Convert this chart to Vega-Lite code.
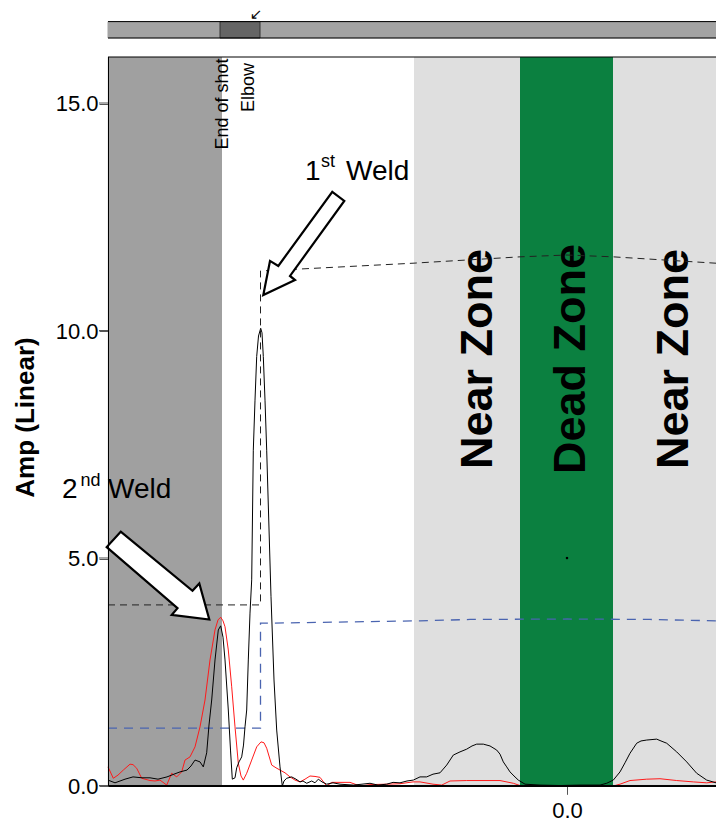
{
  "$schema": "https://vega.github.io/schema/vega-lite/v6.json",
  "autosize": {"type": "none"},
  "padding": {"left": 108, "top": 57, "right": 0, "bottom": 35},
  "width": 608,
  "height": 729,
  "background": "white",
  "config": {
    "view": {"stroke": null},
    "font": "Liberation Sans",
    "text": {"font": "Liberation Sans"},
    "axis": {"labelFont": "Liberation Sans", "titleFont": "Liberation Sans",
      "grid": false, "domainColor": "black", "tickColor": "#555555",
      "labelColor": "black", "labelFontSize": 22},
    "axisX": {"tickSize": 8, "labelPadding": 6},
    "axisY": {"tickSize": 9, "labelPadding": 1, "titleFontSize": 26, "titleFontWeight": "bold", "titleAngle": 270,
      "titleX": -75, "titleY": 360, "titleAlign": "center", "titleBaseline": "alphabetic", "titleColor": "black"}
  },
  "datasets": {
    "bands": [
      {"zone": "beyond", "x": -4.59, "x2": -3.45, "y": 0, "y2": 16.022},
      {"zone": "near", "x": -1.53, "x2": -0.47, "y": 0, "y2": 16.022},
      {"zone": "dead", "x": -0.47, "x2": 0.46, "y": 0, "y2": 16.022},
      {"zone": "near", "x": 0.46, "x2": 1.49, "y": 0, "y2": 16.022}
    ],
    "bar": [
      {"part": "track", "x": -4.59, "x2": 1.49, "y": 16.44, "y2": 16.8},
      {"part": "thumb", "x": -3.47, "x2": -3.07, "y": 16.44, "y2": 16.8}
    ],
    "edges": [
      {"x": -4.59, "x2": 1.49, "y": 16.44},
      {"x": -4.59, "x2": 1.49, "y": 16.8},
      {"x": -4.59, "x2": 1.49, "y": 16.022}
    ],
    "frame": [
      {"x": -4.5855, "x2": -4.5855, "y": 0, "y2": 16.022},
      {"x": -4.59, "x2": 1.49, "y": 0.011, "y2": 0.011}
    ],
    "tickMarks": [
      {"x": -4.68, "x2": -4.59, "y": 0.011, "y2": 0.011},
      {"x": -4.68, "x2": -4.59, "y": 5.011, "y2": 5.011},
      {"x": -4.68, "x2": -4.59, "y": 10.011, "y2": 10.011},
      {"x": -4.68, "x2": -4.59, "y": 15.011, "y2": 15.011},
      {"x": 0.005, "x2": 0.005, "y": -0.19, "y2": 0}
    ],
    "marker": [{"x": 0.0, "y": 5.01}],
    "scrollArrow": [{"x": -3.11, "y": 16.97, "label": "↙"}],
    "black": [
      {"x": -4.59, "y": 0.13}, {"x": -4.52, "y": 0.07}, {"x": -4.42, "y": 0.15}, {"x": -4.34, "y": 0.2},
      {"x": -4.25, "y": 0.18}, {"x": -4.17, "y": 0.18}, {"x": -4.09, "y": 0.15}, {"x": -4.0, "y": 0.2},
      {"x": -3.93, "y": 0.26}, {"x": -3.87, "y": 0.31}, {"x": -3.8, "y": 0.35}, {"x": -3.76, "y": 0.44},
      {"x": -3.72, "y": 0.57}, {"x": -3.67, "y": 0.53}, {"x": -3.637, "y": 0.42}, {"x": -3.603, "y": 0.73},
      {"x": -3.58, "y": 1.34}, {"x": -3.553, "y": 1.89}, {"x": -3.52, "y": 2.77}, {"x": -3.487, "y": 3.43},
      {"x": -3.463, "y": 3.52}, {"x": -3.44, "y": 3.27}, {"x": -3.42, "y": 2.77}, {"x": -3.387, "y": 1.67},
      {"x": -3.365, "y": 0.79}, {"x": -3.347, "y": 0.15}, {"x": -3.32, "y": 0.18}, {"x": -3.303, "y": 0.4},
      {"x": -3.28, "y": 0.53}, {"x": -3.253, "y": 0.64}, {"x": -3.235, "y": 0.9}, {"x": -3.22, "y": 1.3},
      {"x": -3.203, "y": 1.67}, {"x": -3.187, "y": 2.77}, {"x": -3.17, "y": 3.8}, {"x": -3.153, "y": 4.53},
      {"x": -3.137, "y": 7.38}, {"x": -3.12, "y": 8.48}, {"x": -3.103, "y": 9.44}, {"x": -3.085, "y": 9.89},
      {"x": -3.063, "y": 10.06}, {"x": -3.05, "y": 9.96}, {"x": -3.037, "y": 9.44}, {"x": -3.02, "y": 8.48},
      {"x": -3.003, "y": 7.38}, {"x": -2.96, "y": 4.16}, {"x": -2.93, "y": 2.33}, {"x": -2.903, "y": 1.23},
      {"x": -2.87, "y": 0.42}, {"x": -2.847, "y": 0.0}, {"x": -2.83, "y": 0.11}, {"x": -2.803, "y": 0.17},
      {"x": -2.753, "y": 0.2}, {"x": -2.71, "y": 0.15}, {"x": -2.67, "y": 0.09}, {"x": -2.64, "y": 0.11},
      {"x": -2.603, "y": 0.06}, {"x": -2.553, "y": 0.11}, {"x": -2.52, "y": 0.07}, {"x": -2.487, "y": 0.15},
      {"x": -2.45, "y": 0.09}, {"x": -2.403, "y": 0.04}, {"x": -2.34, "y": 0.07}, {"x": -2.27, "y": 0.04},
      {"x": -2.137, "y": 0.02}, {"x": -2.05, "y": 0.04}, {"x": -1.97, "y": 0.06}, {"x": -1.89, "y": 0.02},
      {"x": -1.803, "y": 0.04}, {"x": -1.74, "y": 0.08}, {"x": -1.67, "y": 0.07}, {"x": -1.6, "y": 0.11},
      {"x": -1.537, "y": 0.13}, {"x": -1.47, "y": 0.2}, {"x": -1.403, "y": 0.2}, {"x": -1.34, "y": 0.26},
      {"x": -1.27, "y": 0.29}, {"x": -1.203, "y": 0.46}, {"x": -1.137, "y": 0.68}, {"x": -1.07, "y": 0.75},
      {"x": -1.003, "y": 0.81}, {"x": -0.95, "y": 0.88}, {"x": -0.903, "y": 0.92}, {"x": -0.837, "y": 0.92},
      {"x": -0.77, "y": 0.88}, {"x": -0.703, "y": 0.79}, {"x": -0.67, "y": 0.7}, {"x": -0.637, "y": 0.53},
      {"x": -0.603, "y": 0.42}, {"x": -0.57, "y": 0.31}, {"x": -0.53, "y": 0.22}, {"x": -0.487, "y": 0.13},
      {"x": -0.42, "y": 0.04}, {"x": -0.27, "y": 0.02}, {"x": -0.07, "y": 0.01}, {"x": 0.13, "y": 0.02},
      {"x": 0.33, "y": 0.02}, {"x": 0.397, "y": 0.06}, {"x": 0.463, "y": 0.13}, {"x": 0.53, "y": 0.31},
      {"x": 0.58, "y": 0.51}, {"x": 0.63, "y": 0.72}, {"x": 0.697, "y": 0.94}, {"x": 0.74, "y": 0.99},
      {"x": 0.797, "y": 1.01}, {"x": 0.897, "y": 1.03}, {"x": 0.94, "y": 0.99}, {"x": 0.997, "y": 0.94},
      {"x": 1.097, "y": 0.75}, {"x": 1.197, "y": 0.53}, {"x": 1.297, "y": 0.28}, {"x": 1.397, "y": 0.13},
      {"x": 1.49, "y": 0.07}
    ],
    "red": [
      {"x": -4.59, "y": 0.42}, {"x": -4.537, "y": 0.17}, {"x": -4.49, "y": 0.24}, {"x": -4.437, "y": 0.35},
      {"x": -4.37, "y": 0.48}, {"x": -4.34, "y": 0.47}, {"x": -4.303, "y": 0.39}, {"x": -4.253, "y": 0.17},
      {"x": -4.17, "y": 0.12}, {"x": -4.12, "y": 0.11}, {"x": -4.07, "y": 0.13}, {"x": -4.003, "y": 0.02},
      {"x": -3.953, "y": 0.28}, {"x": -3.903, "y": 0.2}, {"x": -3.853, "y": 0.31}, {"x": -3.82, "y": 0.57},
      {"x": -3.77, "y": 0.64}, {"x": -3.72, "y": 0.86}, {"x": -3.67, "y": 1.3}, {"x": -3.62, "y": 1.89},
      {"x": -3.57, "y": 2.77}, {"x": -3.52, "y": 3.43}, {"x": -3.49, "y": 3.65}, {"x": -3.463, "y": 3.71},
      {"x": -3.44, "y": 3.63}, {"x": -3.42, "y": 3.5}, {"x": -3.387, "y": 2.99}, {"x": -3.353, "y": 2.18},
      {"x": -3.32, "y": 1.3}, {"x": -3.287, "y": 0.5}, {"x": -3.26, "y": 0.22}, {"x": -3.237, "y": 0.13},
      {"x": -3.203, "y": 0.28}, {"x": -3.153, "y": 0.57}, {"x": -3.103, "y": 0.86}, {"x": -3.06, "y": 0.97},
      {"x": -3.03, "y": 0.95}, {"x": -3.003, "y": 0.83}, {"x": -2.953, "y": 0.46}, {"x": -2.91, "y": 0.4},
      {"x": -2.87, "y": 0.35}, {"x": -2.82, "y": 0.29}, {"x": -2.77, "y": 0.2}, {"x": -2.72, "y": 0.13},
      {"x": -2.67, "y": 0.09}, {"x": -2.62, "y": 0.15}, {"x": -2.57, "y": 0.22}, {"x": -2.52, "y": 0.21},
      {"x": -2.47, "y": 0.19}, {"x": -2.403, "y": 0.0}, {"x": -2.353, "y": 0.08}, {"x": -2.17, "y": 0.08},
      {"x": -2.07, "y": 0.0}, {"x": -1.97, "y": 0.03}, {"x": -1.803, "y": 0.04}, {"x": -1.67, "y": 0.05},
      {"x": -1.54, "y": 0.09}, {"x": -1.47, "y": 0.09}, {"x": -1.34, "y": 0.04}, {"x": -1.253, "y": 0.02},
      {"x": -1.17, "y": 0.11}, {"x": -1.003, "y": 0.12}, {"x": -0.67, "y": 0.12}, {"x": -0.537, "y": 0.06},
      {"x": -0.47, "y": 0.01}, {"x": -0.07, "y": 0.0}, {"x": 0.463, "y": 0.0}, {"x": 0.53, "y": 0.04},
      {"x": 0.63, "y": 0.12}, {"x": 0.797, "y": 0.15}, {"x": 0.93, "y": 0.16}, {"x": 1.097, "y": 0.12},
      {"x": 1.263, "y": 0.09}, {"x": 1.397, "y": 0.07}, {"x": 1.49, "y": 0.09}
    ],
    "dacBlack": [
      {"i": 0, "x": -4.59, "y": 3.98}, {"i": 1, "x": -3.065, "y": 3.98}, {"i": 2, "x": -3.065, "y": 11.32},
      {"i": 3, "x": -2.69, "y": 11.36}, {"i": 4, "x": -1.54, "y": 11.49}, {"i": 5, "x": -0.47, "y": 11.63},
      {"i": 6, "x": 0.0, "y": 11.67}, {"i": 7, "x": 0.46, "y": 11.63}, {"i": 8, "x": 1.49, "y": 11.49}
    ],
    "dacBlue": [
      {"i": 0, "x": -4.59, "y": 1.27}, {"i": 1, "x": -3.065, "y": 1.27}, {"i": 2, "x": -3.065, "y": 3.58},
      {"i": 3, "x": -2.97, "y": 3.58}, {"i": 4, "x": -1.47, "y": 3.63}, {"i": 5, "x": -0.97, "y": 3.66},
      {"i": 6, "x": 0.0, "y": 3.67}, {"i": 7, "x": 0.83, "y": 3.66}, {"i": 8, "x": 1.49, "y": 3.63}
    ],
    "arrows": [
      {"id": "first", "i": 0, "x": -2.347, "y": 13.06},
      {"id": "first", "i": 1, "x": -2.227, "y": 12.86},
      {"id": "first", "i": 2, "x": -2.77, "y": 11.21},
      {"id": "first", "i": 3, "x": -2.72, "y": 11.12},
      {"id": "first", "i": 4, "x": -3.037, "y": 10.79},
      {"id": "first", "i": 5, "x": -2.97, "y": 11.54},
      {"id": "first", "i": 6, "x": -2.887, "y": 11.43},
      {"id": "second", "i": 0, "x": -4.463, "y": 5.59},
      {"id": "second", "i": 1, "x": -3.745, "y": 4.29},
      {"id": "second", "i": 2, "x": -3.677, "y": 4.45},
      {"id": "second", "i": 3, "x": -3.577, "y": 3.66},
      {"id": "second", "i": 4, "x": -3.953, "y": 3.76},
      {"id": "second", "i": 5, "x": -3.895, "y": 3.91},
      {"id": "second", "i": 6, "x": -4.603, "y": 5.25}
    ],
    "smallLabels": [
      {"x": -3.39, "y": 15.99, "label": "End of shot"},
      {"x": -3.13, "y": 15.89, "label": "Elbow"}
    ],
    "zoneLabels": [
      {"x": -0.753, "y": 9.385, "label": "Near Zone"},
      {"x": 0.18, "y": 9.385, "label": "Dead Zone"},
      {"x": 1.21, "y": 9.385, "label": "Near Zone"}
    ],
    "weldLabels": [
      {"x": -2.62, "y": 13.32, "label": "1"},
      {"x": -2.21, "y": 13.32, "label": "Weld"},
      {"x": -5.05, "y": 6.34, "label": "2"},
      {"x": -4.59, "y": 6.34, "label": "Weld"}
    ],
    "weldSup": [
      {"x": -2.46, "y": 13.6, "label": "st"},
      {"x": -4.865, "y": 6.59, "label": "nd"}
    ]
  },
  "encoding": {
    "x": {"field": "x", "type": "quantitative", "scale": {"domain": [-4.59, 1.49], "nice": false, "zero": false},
      "axis": {"tickCount": 1, "format": ".1f", "title": null, "zindex": 1}},
    "y": {"field": "y", "type": "quantitative", "scale": {"domain": [0, 16.022], "nice": false},
      "axis": {"tickCount": 4, "format": ".1f", "title": "Amp (Linear)", "zindex": 1}}
  },
  "layer": [
    {
      "data": {"name": "bands"},
      "mark": {"type": "rect"},
      "encoding": {
        "x2": {"field": "x2"},
        "y2": {"field": "y2"},
        "color": {"field": "zone", "type": "nominal", "legend": null,
          "scale": {"domain": ["beyond", "near", "dead"], "range": ["#a0a0a0", "#dfdfdf", "#0b8040"]}}
      }
    },
    {
      "data": {"name": "bar"},
      "mark": {"type": "rect", "strokeWidth": 1},
      "encoding": {
        "x2": {"field": "x2"},
        "y2": {"field": "y2"},
        "fill": {"field": "part", "type": "nominal", "legend": null,
          "scale": {"domain": ["track", "thumb"], "range": ["#a3a3a3", "#656565"]}},
        "stroke": {"field": "part", "type": "nominal", "legend": null,
          "scale": {"domain": ["track", "thumb"], "range": ["#a3a3a3", "#333333"]}}
      }
    },
    {
      "data": {"name": "edges"},
      "mark": {"type": "rule", "color": "black", "strokeWidth": 1},
      "encoding": {
        "x2": {"field": "x2"}
      }
    },
    {
      "data": {"name": "scrollArrow"},
      "mark": {"type": "text", "fontSize": 15, "font": "DejaVu Sans", "align": "center", "baseline": "middle", "color": "black"},
      "encoding": {
        "text": {"field": "label"}
      }
    },
    {
      "data": {"name": "zoneLabels"},
      "mark": {"type": "text", "fontSize": 45, "fontWeight": "bold", "angle": 270, "align": "center", "baseline": "alphabetic", "color": "black"},
      "encoding": {
        "text": {"field": "label"}
      }
    },
    {
      "data": {"name": "dacBlack"},
      "mark": {"type": "line", "color": "#222222", "strokeWidth": 1, "strokeDash": [7, 5]},
      "encoding": {
        "order": {"field": "i"}
      }
    },
    {
      "data": {"name": "dacBlue"},
      "mark": {"type": "line", "color": "#4a64b0", "strokeWidth": 1.3, "strokeDash": [9, 7]},
      "encoding": {
        "order": {"field": "i"}
      }
    },
    {
      "data": {"name": "red"},
      "mark": {"type": "line", "color": "#ff1a1a", "strokeWidth": 1},
      "encoding": {}
    },
    {
      "data": {"name": "black"},
      "mark": {"type": "line", "color": "black", "strokeWidth": 1},
      "encoding": {}
    },
    {
      "data": {"name": "marker"},
      "mark": {"type": "square", "size": 5, "color": "black", "opacity": 1},
      "encoding": {}
    },
    {
      "data": {"name": "frame"},
      "mark": {"type": "rule", "color": "black", "strokeWidth": 1},
      "encoding": {
        "x2": {"field": "x2"},
        "y2": {"field": "y2"}
      }
    },
    {
      "data": {"name": "tickMarks"},
      "mark": {"type": "rule", "color": "#555555", "strokeWidth": 1},
      "encoding": {
        "x2": {"field": "x2"},
        "y2": {"field": "y2"}
      }
    },
    {
      "data": {"name": "smallLabels"},
      "mark": {"type": "text", "fontSize": 18, "angle": 270, "align": "right", "baseline": "alphabetic", "color": "black"},
      "encoding": {
        "text": {"field": "label"}
      }
    },
    {
      "data": {"name": "weldLabels"},
      "mark": {"type": "text", "fontSize": 28, "align": "left", "baseline": "alphabetic", "color": "black"},
      "encoding": {
        "text": {"field": "label"}
      }
    },
    {
      "data": {"name": "weldSup"},
      "mark": {"type": "text", "fontSize": 18, "align": "left", "baseline": "alphabetic", "color": "black"},
      "encoding": {
        "text": {"field": "label"}
      }
    },
    {
      "data": {"name": "arrows"},
      "mark": {"type": "line", "interpolate": "linear-closed", "fill": "white", "stroke": "black", "strokeWidth": 2.2, "strokeJoin": "miter"},
      "encoding": {
        "detail": {"field": "id"},
        "order": {"field": "i"}
      }
    }
  ]
}
